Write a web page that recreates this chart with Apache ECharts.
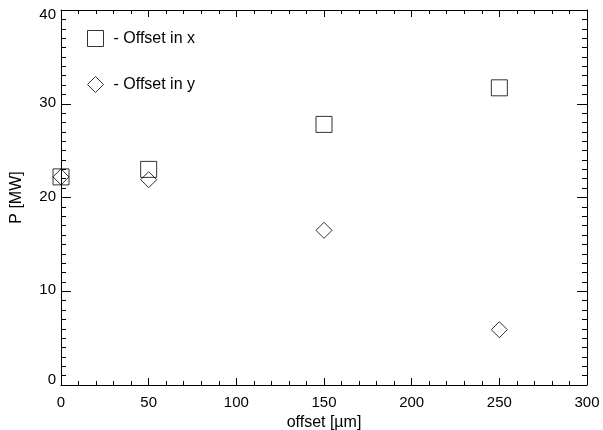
<!DOCTYPE html>
<html>
<head>
<meta charset="utf-8">
<script src="https://cdn.jsdelivr.net/npm/echarts@6/dist/echarts.min.js"></script>
<style>html,body{margin:0;padding:0;background:#fff;}#c{width:603px;height:430px;}</style>
</head>
<body>
<div id="c"></div>
<script>
var offsets = [0, 50, 150, 250];
var powerOffsetX = [22.2, 23.0, 27.8, 31.7];
var powerOffsetY = [22.2, 21.9, 16.5, 5.9];
var seriesNames = ['- Offset in x', '- Offset in y'];
var xAxisTitle = 'offset [\u00b5m]';
var yAxisTitle = 'P [MW]';

function pairs(xs, ys) { return xs.map(function (x, i) { return [x, ys[i]]; }); }

var font = 'Liberation Sans, Arial, Helvetica, sans-serif';
var lineStyle = { color: '#000', width: 1 };

function xAx(pos, labels) {
  return {
    type: 'value', position: pos, min: 0, max: 300, interval: 50,
    name: labels ? xAxisTitle : '', nameLocation: 'middle', nameGap: 24,
    nameTextStyle: { color: '#000', fontSize: 16, fontFamily: font },
    axisLine: { show: true, onZero: false, lineStyle: lineStyle },
    axisTick: { show: true, inside: true, length: 7, lineStyle: lineStyle },
    minorTick: { show: true, splitNumber: 5, length: 4, lineStyle: lineStyle },
    axisLabel: { show: labels, color: '#000', fontSize: 15, fontFamily: font, margin: 10 },
    splitLine: { show: false }, minorSplitLine: { show: false }
  };
}
function yAx(pos, labels) {
  return {
    type: 'value', position: pos, min: 0, max: 40, interval: 10,
    name: labels ? yAxisTitle : '', nameLocation: 'middle', nameGap: 36,
    nameTextStyle: { color: '#000', fontSize: 16, fontFamily: font },
    axisLine: { show: true, onZero: false, lineStyle: lineStyle },
    axisTick: { show: true, inside: true, length: 10, lineStyle: lineStyle },
    minorTick: { show: true, splitNumber: 10, length: 5, lineStyle: lineStyle },
    axisLabel: {
      show: labels, color: '#000', fontSize: 15, fontFamily: font, margin: 5,
      formatter: function (v) {
        if (v === 40) return '{t|' + v + '}';
        if (v === 0) return '{b|' + v + '}';
        return '{m|' + v + '}';
      },
      rich: {
        t: { fontSize: 15, fontFamily: font, color: '#000', padding: [10, 0, 0, 0] },
        b: { fontSize: 15, fontFamily: font, color: '#000', padding: [0, 0, 11, 0] },
        m: { fontSize: 15, fontFamily: font, color: '#000', padding: [0, 0, 2, 0] }
      }
    },
    splitLine: { show: false }, minorSplitLine: { show: false }
  };
}

var chart = echarts.init(document.getElementById('c'));
chart.setOption({
  animation: false,
  backgroundColor: '#fff',
  grid: { left: 61, right: 16, top: 10, bottom: 45, containLabel: false, outerBoundsMode: 'none' },
  xAxis: [xAx('bottom', true), xAx('top', false)],
  yAxis: [yAx('left', true), yAx('right', false)],
  legend: {
    orient: 'vertical', left: 87, top: 30, padding: 0,
    itemWidth: 16, itemHeight: 16, itemGap: 29,
    selectedMode: false,
    itemStyle: { color: 'transparent', borderColor: '#000', borderWidth: 1 },
    textStyle: { color: '#000', fontSize: 16, fontFamily: font, padding: [0, 0, 0, 5] },
    data: seriesNames
  },
  series: [
    {
      name: seriesNames[0], type: 'scatter', clip: false, symbol: 'rect', symbolSize: 16,
      itemStyle: { color: 'transparent', borderColor: '#000', borderWidth: 1 },
      data: pairs(offsets, powerOffsetX)
    },
    {
      name: seriesNames[1], type: 'scatter', clip: false, symbol: 'diamond', symbolSize: 16,
      itemStyle: { color: 'transparent', borderColor: '#000', borderWidth: 1 },
      data: pairs(offsets, powerOffsetY)
    }
  ]
});
</script>
</body>
</html>
